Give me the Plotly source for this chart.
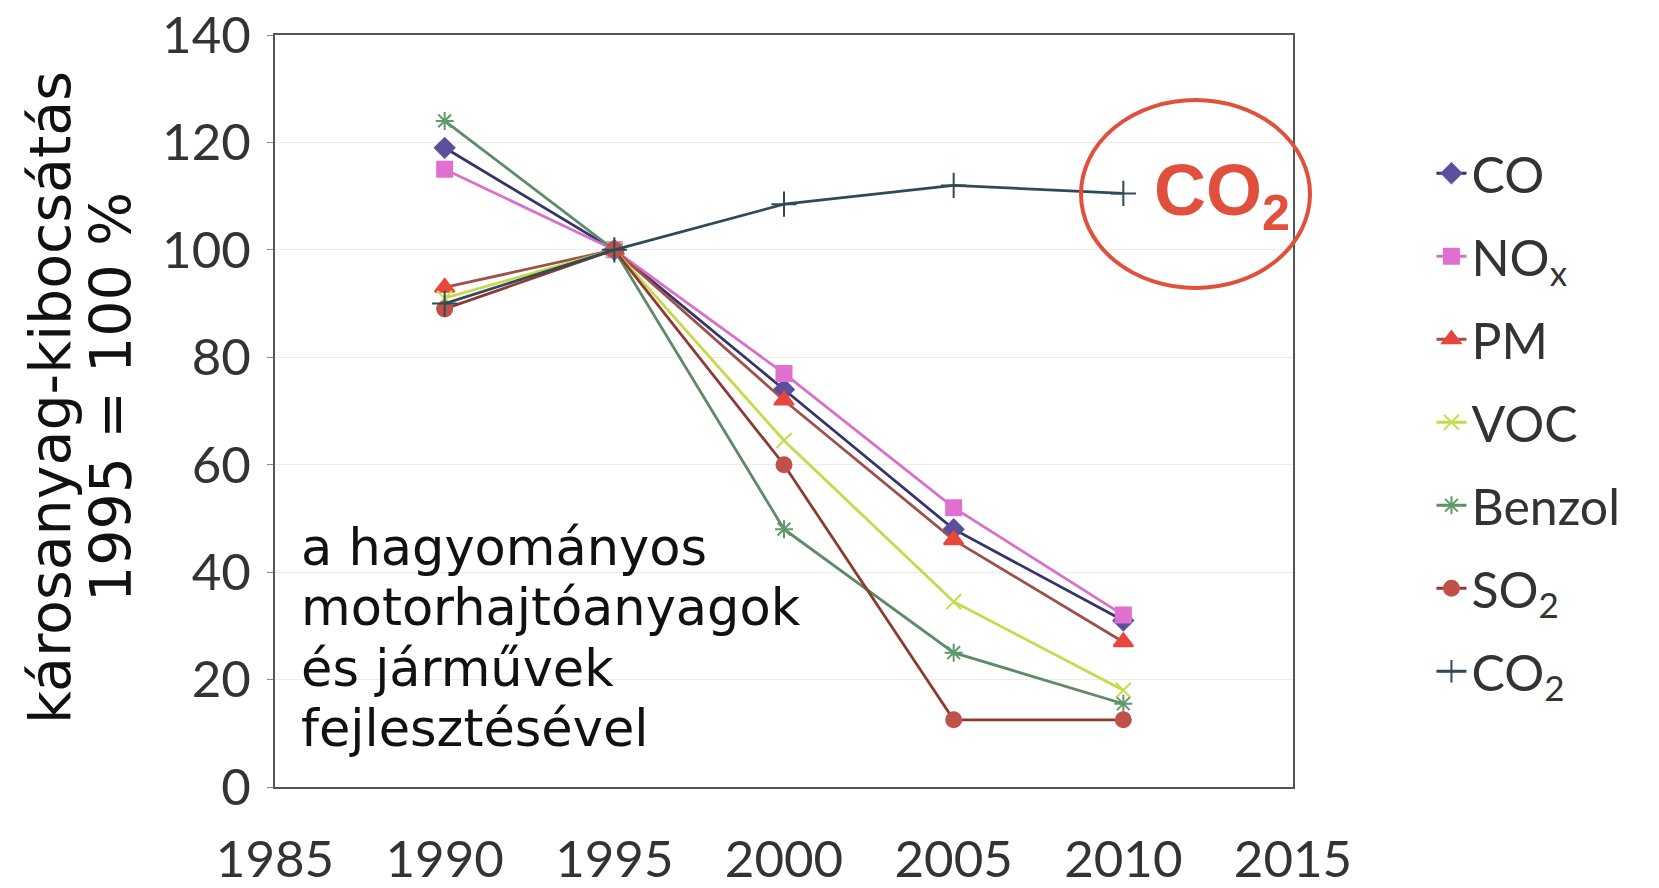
import plotly.graph_objects as go

years = [1990, 1995, 2000, 2005, 2010]
co = [119, 100, 74, 48, 31]
nox = [115, 100, 77, 52, 32]
pm = [93, 100, 72, 46, 27]
voc = [91, 100, 64.5, 34.5, 18]
benzol = [124, 100, 48, 25, 15.5]
so2 = [89, 100, 60, 12.5, 12.5]
co2 = [90, 100, 108.5, 112, 110.5]

series_names = ["CO", "NO<sub>x</sub>", "PM", "VOC", "Benzol", "SO<sub>2</sub>", "CO<sub>2</sub>"]
series_values = [co, nox, pm, voc, benzol, so2, co2]
line_colors = ["#34346a", "#d870c8", "#a0504a", "#c8d848", "#5f8a68", "#8c3a32", "#2f4a5a"]
marker_colors = ["#5b4f9e", "#e070d0", "#e8463c", "#c8dc50", "#5f9a6a", "#c0504a", "#2f4a5a"]
symbols = ["diamond", "square", "triangle-up", "x-thin-open", "asterisk-open", "circle", "cross-thin-open"]
msizes = [15, 15, 17, 15, 15, 15, 18]

x_ticks = [1985, 1990, 1995, 2000, 2005, 2010, 2015]
y_ticks = [0, 20, 40, 60, 80, 100, 120, 140]

fig = go.Figure()
for i, (name, vals) in enumerate(zip(series_names, series_values)):
    fig.add_trace(go.Scatter(
        x=years, y=vals, name=name, mode="lines+markers",
        legendgroup=f"g{i}",
        line=dict(color=line_colors[i], width=2.8),
        marker=dict(symbol=symbols[i], size=msizes[i], color=marker_colors[i],
                    line=dict(color=marker_colors[i], width=2)),
    ))

tickfont = dict(family="Lato", size=51, color="#333333")
fig.update_layout(
    width=1659, height=888,
    margin=dict(l=275, r=366, t=35, b=101, autoexpand=False),
    paper_bgcolor="white", plot_bgcolor="white",
    showlegend=True,
    legend=dict(x=1.136, y=0.868, xanchor="left", yanchor="top",
                font=dict(family="Lato", size=50, color="#333333"),
                tracegroupgap=15, bgcolor="rgba(0,0,0,0)"),
    xaxis=dict(range=[1985, 2015], tickvals=x_ticks, ticktext=[str(t) for t in x_ticks],
               showgrid=False, zeroline=False, showline=True, mirror=True,
               linecolor="#555555", linewidth=2, ticks="", tickfont=tickfont,
               ticklabelstandoff=27, automargin=False),
    yaxis=dict(range=[0, 140], tickvals=y_ticks, showgrid=True, gridcolor="#ececec",
               zeroline=False, showline=True, mirror=True, linecolor="#555555", linewidth=2,
               ticks="outside", ticklen=6, tickcolor="#888888", tickfont=tickfont,
               ticklabelstandoff=6, automargin=False),
)

ann_font = dict(family="DejaVu Sans", size=57, color="#111111")
fig.add_annotation(text="károsanyag-kibocsátás", xref="paper", yref="paper",
                   x=(50 - 275) / 1018, y=(787 - 398) / 752, textangle=-90,
                   showarrow=False, font=ann_font, xanchor="center", yanchor="middle")
fig.add_annotation(text="1995 = 100 %", xref="paper", yref="paper",
                   x=(111 - 275) / 1018, y=(787 - 397) / 752, textangle=-90,
                   showarrow=False, font=ann_font, xanchor="center", yanchor="middle")

note_lines = ["a hagyományos", "motorhajtóanyagok", "és járművek", "fejlesztésével"]
for k, line in enumerate(note_lines):
    yc = 547 + k * 60.5
    fig.add_annotation(text=line, xref="paper", yref="paper",
                       x=(299 - 275) / 1018, y=(787 - yc) / 752, showarrow=False,
                       font=dict(family="DejaVu Sans", size=51, color="#111111"),
                       xanchor="left", yanchor="middle")

fig.add_shape(type="circle", xref="paper", yref="paper",
              x0=(1081 - 275) / 1018, x1=(1310 - 275) / 1018,
              y0=(787 - 288) / 752, y1=(787 - 100) / 752,
              line=dict(color="#e0503c", width=4))
fig.add_annotation(text="<b>CO<sub>2</sub></b>", xref="paper", yref="paper",
                   x=(1222 - 275) / 1018, y=(787 - 196) / 752, showarrow=False,
                   font=dict(family="Liberation Sans", size=72, color="#e0503c"),
                   xanchor="center", yanchor="middle")

fig.write_html("out.html")
